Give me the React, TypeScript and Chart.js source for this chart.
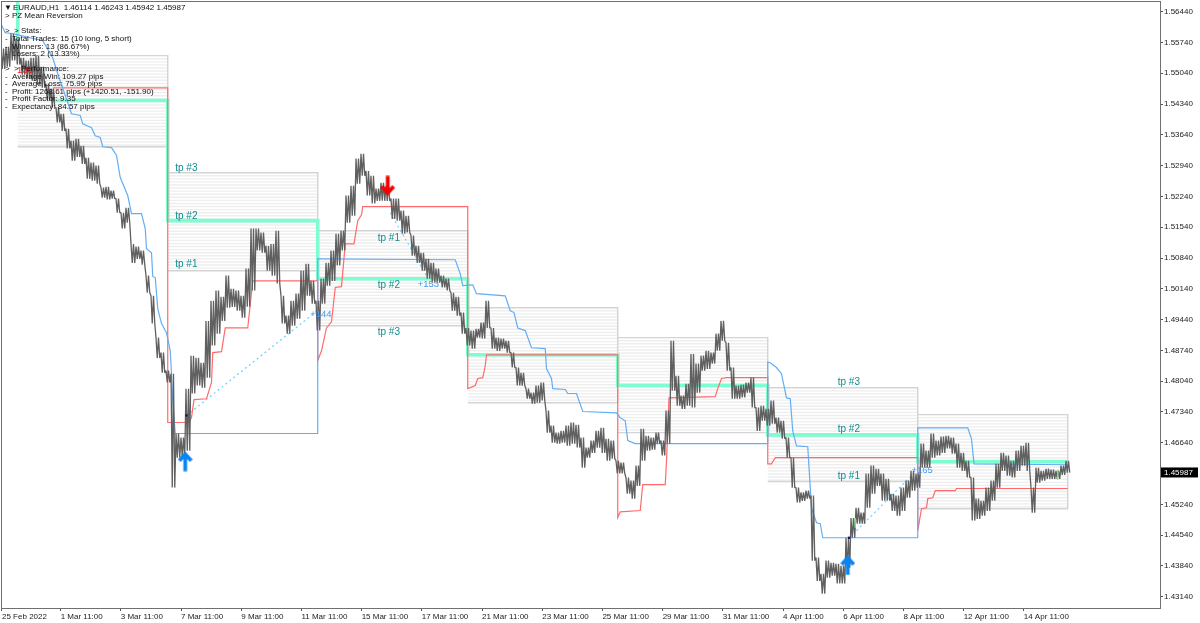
import React, { useEffect, useRef } from "react";
import { Chart, registerables } from "chart.js";

Chart.register(...registerables);

const yTicks = [1.5644, 1.5574, 1.5504, 1.5434, 1.5364, 1.5294, 1.5224, 1.5154, 1.5084, 1.5014, 1.4944, 1.4874, 1.4804, 1.4734, 1.4664, 1.4524, 1.4454, 1.4384, 1.4314];
const xTickBars = [-1.6, 45.3, 93.4, 141.6, 189.8, 237.9, 286.1, 334.2, 382.4, 430.6, 478.7, 526.9, 575, 623.2, 671.4, 719.5, 767.7, 815.8];
const xLabels = ["25 Feb 2022", "1 Mar 11:00", "3 Mar 11:00", "7 Mar 11:00", "9 Mar 11:00", "11 Mar 11:00", "15 Mar 11:00", "17 Mar 11:00", "21 Mar 11:00", "23 Mar 11:00", "25 Mar 11:00", "29 Mar 11:00", "31 Mar 11:00", "4 Apr 11:00", "6 Apr 11:00", "8 Apr 11:00", "12 Apr 11:00", "14 Apr 11:00"];

// Price range of each 4-hour group of candles, left to right.
const candleHigh = [1.5560,1.5564,1.5594,1.5583,1.5539,1.5533,1.5539,1.5544,1.5519,1.5480,1.5469,1.5426,1.5412,1.5378,1.5351,1.5355,1.5339,1.5312,1.5301,1.5294,1.5244,1.5246,1.5237,1.5219,1.5187,1.5198,1.5116,1.5110,1.5101,1.5044,1.4998,1.4903,1.4869,1.4828,1.4821,1.4685,1.4676,1.4787,1.4862,1.4857,1.4846,1.4941,1.4987,1.5010,1.4996,1.5044,1.5014,1.5010,1.4998,1.5060,1.5151,1.5151,1.5142,1.5112,1.5116,1.5146,1.4998,1.4953,1.4987,1.5003,1.5055,1.5071,1.5032,1.4987,1.5037,1.5073,1.5101,1.5139,1.5146,1.5226,1.5248,1.5310,1.5321,1.5282,1.5271,1.5242,1.5255,1.5248,1.5219,1.5219,1.5192,1.5180,1.5135,1.5112,1.5096,1.5082,1.5073,1.5060,1.5044,1.5037,1.5005,1.4996,1.4960,1.4925,1.4919,1.4923,1.4937,1.4987,1.4925,1.4903,1.4901,1.4896,1.4869,1.4835,1.4823,1.4787,1.4778,1.4794,1.4801,1.4737,1.4703,1.4687,1.4691,1.4703,1.4710,1.4705,1.4676,1.4653,1.4669,1.4691,1.4698,1.4673,1.4669,1.4623,1.4619,1.4585,1.4578,1.4612,1.4696,1.4680,1.4676,1.4687,1.4669,1.4737,1.4896,1.4816,1.4771,1.4798,1.4866,1.4844,1.4862,1.4873,1.4869,1.4912,1.4941,1.4891,1.4835,1.4794,1.4796,1.4801,1.4812,1.4744,1.4748,1.4741,1.4760,1.4721,1.4714,1.4676,1.4630,1.4562,1.4551,1.4555,1.4544,1.4403,1.4366,1.4396,1.4391,1.4389,1.4384,1.4448,1.4493,1.4516,1.4505,1.4594,1.4612,1.4605,1.4594,1.4582,1.4548,1.4544,1.4562,1.4578,1.4600,1.4594,1.4662,1.4646,1.4685,1.4669,1.4678,1.4680,1.4676,1.4662,1.4641,1.4623,1.4585,1.4537,1.4532,1.4562,1.4578,1.4616,1.4641,1.4635,1.4623,1.4646,1.4657,1.4664,1.4562,1.4607,1.4600,1.4605,1.4603,1.4600,1.4612,1.4623];
const candleLow = [1.5514,1.5519,1.5533,1.5524,1.5501,1.5492,1.5487,1.5478,1.5471,1.5442,1.5426,1.5392,1.5373,1.5333,1.5305,1.5314,1.5298,1.5264,1.5260,1.5253,1.5221,1.5217,1.5219,1.5187,1.5151,1.5164,1.5073,1.5082,1.5069,1.5005,1.4935,1.4857,1.4823,1.4801,1.4562,1.4630,1.4632,1.4646,1.4776,1.4794,1.4789,1.4812,1.4885,1.4912,1.4941,1.4971,1.4973,1.4964,1.4948,1.4973,1.5010,1.5101,1.5096,1.5055,1.5044,1.5026,1.4935,1.4912,1.4930,1.4946,1.4964,1.4998,1.4980,1.4919,1.4980,1.5021,1.5032,1.5067,1.5101,1.5164,1.5180,1.5253,1.5271,1.5226,1.5208,1.5214,1.5214,1.5214,1.5173,1.5169,1.5139,1.5142,1.5089,1.5073,1.5055,1.5037,1.5028,1.5028,1.5017,1.5010,1.4964,1.4953,1.4912,1.4885,1.4878,1.4903,1.4901,1.4925,1.4878,1.4873,1.4878,1.4869,1.4835,1.4794,1.4794,1.4764,1.4753,1.4755,1.4760,1.4687,1.4664,1.4662,1.4664,1.4657,1.4662,1.4653,1.4607,1.4630,1.4641,1.4653,1.4641,1.4623,1.4628,1.4594,1.4594,1.4548,1.4537,1.4566,1.4623,1.4646,1.4648,1.4662,1.4635,1.4662,1.4782,1.4748,1.4741,1.4748,1.4744,1.4778,1.4828,1.4832,1.4844,1.4873,1.4896,1.4828,1.4764,1.4764,1.4767,1.4778,1.4744,1.4691,1.4714,1.4703,1.4707,1.4687,1.4673,1.4630,1.4562,1.4528,1.4532,1.4537,1.4396,1.4350,1.4321,1.4357,1.4362,1.4344,1.4344,1.4380,1.4448,1.4480,1.4480,1.4516,1.4548,1.4566,1.4532,1.4532,1.4509,1.4498,1.4509,1.4539,1.4555,1.4562,1.4607,1.4607,1.4630,1.4635,1.4641,1.4651,1.4639,1.4607,1.4600,1.4585,1.4487,1.4491,1.4498,1.4509,1.4532,1.4562,1.4600,1.4589,1.4585,1.4600,1.4612,1.4600,1.4505,1.4573,1.4578,1.4582,1.4582,1.4582,1.4591,1.4596];

const blueBars = [-2,1,7,31,39,43,54,61,63,70,73,77,79,86,90,93,99,102,110,113,114,118,119,121,123,126,129,130,133,134,135,137,251,251,252,361,365,367,375,378,401,405,408,411,417,422,433,434,438,439,449,451,458,463,490,493,497,499,505,611,611,613,618,622,626,629,631,634,643,646,650,653,655,731,731,771,774,776,851];
const bluePrice = [1.5614,1.5596,1.5594,1.5578,1.5539,1.5503,1.5412,1.5408,1.5389,1.5380,1.5362,1.5358,1.5337,1.5335,1.5317,1.5267,1.5226,1.5185,1.5185,1.5151,1.5105,1.5096,1.5042,1.5039,1.4969,1.4935,1.4919,1.4914,1.4873,1.4821,1.4760,1.4685,1.4685,1.5082,1.5082,1.5080,1.5048,1.5021,1.5023,1.5003,1.4998,1.4964,1.4960,1.4925,1.4919,1.4880,1.4878,1.4832,1.4810,1.4787,1.4785,1.4776,1.4776,1.4735,1.4732,1.4721,1.4714,1.4669,1.4662,1.4662,1.4847,1.4846,1.4835,1.4821,1.4766,1.4764,1.4691,1.4657,1.4655,1.4516,1.4482,1.4480,1.4448,1.4448,1.4698,1.4698,1.4673,1.4616,1.4614];

const redBars = [39,131,131,148,150,152,162,166,167,174,177,195,199,251,251,254,258,262,265,270,273,280,283,286,287,371,371,377,379,383,385,386,491,491,493,509,511,529,530,532,569,571,574,578,611,611,614,617,731,731,734,738,739,743,745,761,762,851];
const redPrice = [1.5471,1.5471,1.4710,1.4710,1.4721,1.4762,1.4764,1.4801,1.4869,1.4871,1.4925,1.4925,1.5032,1.5032,1.4851,1.4873,1.4925,1.4939,1.5017,1.5019,1.5116,1.5116,1.5169,1.5182,1.5201,1.5201,1.4787,1.4794,1.4810,1.4812,1.4839,1.4864,1.4864,1.4494,1.4507,1.4510,1.4569,1.4569,1.4623,1.4766,1.4769,1.4787,1.4810,1.4812,1.4812,1.4616,1.4616,1.4630,1.4630,1.4464,1.4514,1.4516,1.4537,1.4539,1.4555,1.4555,1.4560,1.4560];

const meanBars = [11,11,11,39,131,131,251,251,371,371,491,491,611,611,731,731,851];
const meanPrice = [1.5669,1.5548,null,1.5442,1.5442,1.5169,1.5169,1.5037,1.5037,1.4864,1.4864,1.4794,1.4794,1.4682,1.4682,1.4621,1.4621];

const tradeBars = [146,251,null,309,339,null,682,726];
const tradePrice = [1.4726,1.4965,null,1.5187,1.5039,null,1.4464,1.4589];

const boxStart = [11,131,251,371,491,611,731];
const boxEnd = [131,251,371,491,611,731,851];
const boxTop = [1.5544,1.5278,1.5146,1.4971,1.4903,1.4789,1.4728];
const boxBottom = [1.5337,1.5055,1.4930,1.4755,1.4687,1.4576,1.4514];

const tpText = ["tp #3","tp #2","tp #1","tp #1","tp #2","tp #3","tp #3","tp #2","tp #1"];
const tpBars = [137,137,137,299,299,299,667,667,667];
const tpPrice = [1.5289,1.5180,1.5069,1.5130,1.5023,1.4916,1.4801,1.4694,1.4587];

const profitText = ["+144","+153","+165"];
const profitBars = [245,331,726];
const profitPrice = [1.4955,1.5023,1.4601];

const stats = ["Total Trades: 15 (10 long, 5 short)","Winners: 13 (86.67%)","Losers: 2 (13.33%)"];
const perf = ["Average Win: 109.27 pips","Average Loss: 75.95 pips","Profit: 1268.61 pips (+1420.51, -151.90)","Profit Factor: 9.35","Expectancy: 84.57 pips"];
const lastPrice = 1.45987;

const upArrowBars = [145,675];
const upArrowPrice = [1.4621,1.4385];
const downArrowBars = [307];
const downArrowPrice = [1.5249];

const greenBars = [843,843,null,681,681];
const greenPrice = [1.4602,1.4580,null,1.4493,1.4471];
const entryBars = [146,676];
const entryPrice = [1.4726,1.4448];

const FONT = "'Liberation Sans', Arial, sans-serif";

function arrowIcon(color: string, up: boolean) {
  const c = document.createElement("canvas");
  c.width = 15;
  c.height = 20;
  const g = c.getContext("2d")!;
  g.translate(7.5, 10);
  if (!up) g.scale(1, -1);
  g.strokeStyle = color;
  g.lineWidth = 3.8;
  g.beginPath();
  g.moveTo(0, 9.5);
  g.lineTo(0, -7);
  g.moveTo(-6, -1);
  g.lineTo(0, -7.5);
  g.lineTo(6, -1);
  g.stroke();
  return c;
}

const zip = (a: (number | null)[], b: (number | null)[]) =>
  a.map((x, i) => ({ x: x === null ? NaN : x, y: b[i] === null ? NaN : b[i] }));

const hatchPoints: { x: number; y: number }[] = [];
const borderPoints: { x: number; y: number }[] = [];
boxStart.forEach((s, i) => {
  for (let p = boxTop[i] - 0.0007; p > boxBottom[i]; p -= 0.0007) {
    hatchPoints.push({ x: s, y: p }, { x: boxEnd[i], y: p }, { x: NaN, y: NaN });
  }
  borderPoints.push(
    { x: s, y: boxTop[i] },
    { x: boxEnd[i], y: boxTop[i] },
    { x: boxEnd[i], y: boxBottom[i] },
    { x: s, y: boxBottom[i] },
    { x: NaN, y: NaN }
  );
});

// Each group is traced high, low, high, low so the candles read as a jagged band.
const candleTrace: { x: number; y: number }[] = [];
candleHigh.forEach((h, i) => {
  const x = i * 4 - 2.4;
  candleTrace.push({ x, y: h }, { x: x + 1, y: candleLow[i] }, { x: x + 2, y: h }, { x: x + 3, y: candleLow[i] });
});

const overlay = {
  id: "overlay",
  afterDraw(chart: any) {
    const { ctx, chartArea: a, scales } = chart;
    const X = (v: number) => scales.x.getPixelForValue(v);
    const Y = (v: number) => scales.y.getPixelForValue(v);
    ctx.save();
    ctx.strokeStyle = "#707070";
    ctx.lineWidth = 1;
    ctx.strokeRect(a.left + 0.5, a.top + 0.5, a.right - a.left, a.bottom - a.top);

    ctx.textBaseline = "middle";
    ctx.textAlign = "left";
    ctx.font = `10px ${FONT}`;
    ctx.fillStyle = "#0f8c8c";
    tpText.forEach((t, i) => ctx.fillText(t, X(tpBars[i]), Y(tpPrice[i])));
    ctx.font = `9.5px ${FONT}`;
    ctx.fillStyle = "#3f9df5";
    profitText.forEach((t, i) => ctx.fillText(t, X(profitBars[i]), Y(profitPrice[i])));
    ctx.fillStyle = "#ff1a1a";
    ctx.fillText("136", 17, 70);

    ctx.font = `8px ${FONT}`;
    ctx.fillStyle = "#111111";
    ctx.fillText("\u25BC", 4, 8);
    ctx.fillText("EURAUD,H1  1.46114 1.46243 1.45942 1.45987", 13, 8);
    ctx.fillText("> PZ Mean Reversion", 5, 16);
    ctx.fillText(">  > Stats:", 5, 31);
    stats.forEach((t, i) => {
      ctx.fillText("-", 5, 39 + i * 7.6);
      ctx.fillText(t, 12, 39 + i * 7.6);
    });
    ctx.fillText(">  > Performance:", 5, 69);
    perf.forEach((t, i) => {
      ctx.fillText("-", 5, 76.5 + i * 7.5);
      ctx.fillText(t, 12, 76.5 + i * 7.5);
    });

    const ly = Y(lastPrice) + 1;
    ctx.fillStyle = "#000000";
    ctx.fillRect(a.right + 1, ly - 5, 37, 10);
    ctx.fillStyle = "#ffffff";
    ctx.fillText(lastPrice.toFixed(5), a.right + 4, ly);
    ctx.restore();
  },
};

export default function App() {
  const ref = useRef<HTMLCanvasElement>(null);
  useEffect(() => {
    document.body.style.margin = "0";
    const line = (data: any[], color: string, width: number, order: number, extra: any = {}) => ({
      type: "line",
      data,
      borderColor: color,
      borderWidth: width,
      pointRadius: 0,
      tension: 0,
      order,
      ...extra,
    });
    const chart = new Chart(ref.current!, {
      type: "line",
      data: {
        datasets: [
          line(hatchPoints, "#eeeeee", 1.4, 9),
          line(borderPoints, "#d4d4d4", 1.4, 8),
          line(zip(tradeBars, tradePrice), "#6fd0ff", 1.2, 7, { borderDash: [2, 3] }),
          line(zip(meanBars, meanPrice), "#7dfdd0", 3.6, 6),
          line(zip(redBars, redPrice), "#ff6a6a", 1.2, 5),
          line(zip(blueBars, bluePrice), "#62aef5", 1.2, 4),
          line(candleTrace, "#606060", 1.3, 3, { borderJoinStyle: "bevel" }),
          line(zip(greenBars, greenPrice), "#6df26d", 1.4, 2),
          {
            type: "scatter",
            data: zip(entryBars, entryPrice),
            pointStyle: "rect",
            pointRadius: 1.6,
            backgroundColor: "#101070",
            borderWidth: 0,
            order: 2,
          },
          {
            type: "scatter",
            data: zip(upArrowBars, upArrowPrice),
            pointStyle: arrowIcon("#0a84f5", true),
            order: 1,
          },
          {
            type: "scatter",
            data: zip(downArrowBars, downArrowPrice),
            pointStyle: arrowIcon("#f40000", false),
            order: 1,
          },
        ] as any,
      },
      options: {
        animation: false,
        responsive: false,
        devicePixelRatio: 1,
        layout: { autoPadding: false, padding: { left: 1, top: 1, right: 0, bottom: 0 } },
        plugins: { legend: { display: false }, tooltip: { enabled: false } },
        events: [],
        scales: {
          x: {
            type: "linear",
            min: -2.4,
            max: 924.8,
            offset: false,
            afterBuildTicks: (s: any) => {
              s.ticks = xTickBars.map((value) => ({ value }));
            },
            afterFit: (s: any) => {
              s.height = 15;
              s.paddingLeft = 0;
              s.paddingRight = 0;
            },
            border: { color: "#707070", width: 1 },
            grid: { offset: false, drawOnChartArea: false, drawTicks: true, tickLength: 3, color: "#555555" },
            ticks: {
              autoSkip: false,
              maxRotation: 0,
              align: "start",
              padding: 1,
              color: "#222222",
              font: { family: FONT, size: 8 },
              callback: (_v: any, i: number) => xLabels[i],
            },
          },
          y: {
            type: "linear",
            position: "right",
            min: 1.42883,
            max: 1.56683,
            afterBuildTicks: (s: any) => {
              s.ticks = yTicks.map((value) => ({ value }));
            },
            afterFit: (s: any) => {
              s.width = 40;
              s.paddingTop = 0;
              s.paddingBottom = 0;
            },
            border: { color: "#707070", width: 1 },
            grid: { drawOnChartArea: false, drawTicks: true, tickLength: 3, color: "#555555" },
            ticks: {
              autoSkip: false,
              padding: 1,
              color: "#222222",
              font: { family: FONT, size: 8 },
              callback: (v: any) => Number(v).toFixed(5),
            },
          },
        },
      } as any,
      plugins: [overlay],
    });
    return () => chart.destroy();
  }, []);
  return <canvas ref={ref} width={1200} height={623} style={{ display: "block", filter: "blur(0.3px)" }} />;
}
